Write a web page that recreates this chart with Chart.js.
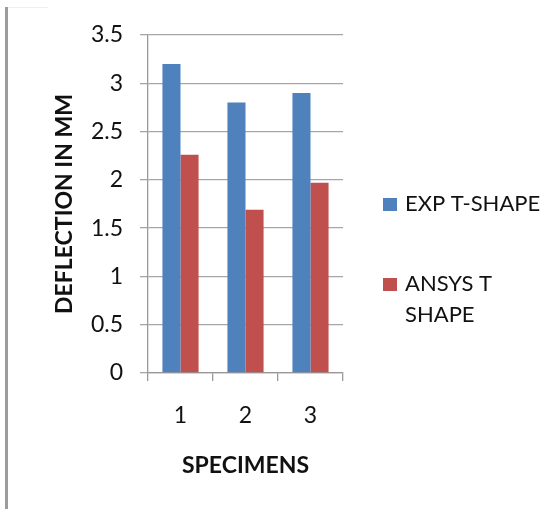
<!DOCTYPE html>
<html>
<head>
<meta charset="utf-8">
<script src="https://cdn.jsdelivr.net/npm/chart.js@4/dist/chart.umd.min.js"></script>
<style>
  html, body { margin: 0; padding: 0; background: #fff; }
  #wrap { position: relative; width: 559px; height: 509px; }
  #edge { position: absolute; left: 5px; top: 7px; width: 3px; height: 502px; background: #9c9c9c; }
  #topline { position: absolute; left: 8px; top: 7px; width: 40px; height: 1px; background: #eee; }
  canvas { position: absolute; left: 0; top: 0; }
</style>
</head>
<body>
<div id="wrap">
  <div id="edge"></div>
  <div id="topline"></div>
  <canvas id="barChart" width="559" height="509"></canvas>
</div>
<script>
var SPECIMENS = ["1", "2", "3"];
var SERIES = ["EXP T-SHAPE", "ANSYS T SHAPE"];
var EXP_T = [3.2, 2.8, 2.9];
var ANSYS_T = [2.26, 1.69, 1.97];
var COLORS = ["#4F81BD", "#C0504D"];

var FONT = "Lato, 'Open Sans', sans-serif";

// legend drawn by hand so the second label can wrap like in the original
var sideLegend = {
    id: 'sideLegend',
    afterDraw: function (chart) {
        var ctx = chart.ctx;
        var opts = chart.options.plugins.sideLegend;
        var y = opts.top;
        ctx.save();
        ctx.font = opts.size + "px " + FONT;
        ctx.textBaseline = "middle";
        ctx.textAlign = "left";
        chart.data.datasets.forEach(function (ds, i) {
            // word wrap
            var words = ds.label.split(" ");
            var lines = [], cur = "";
            words.forEach(function (w) {
                var t = cur ? cur + " " + w : w;
                if (ctx.measureText(t).width > opts.maxWidth && cur) {
                    lines.push(cur);
                    cur = w;
                } else {
                    cur = t;
                }
            });
            lines.push(cur);
            ctx.fillStyle = ds.backgroundColor;
            ctx.fillRect(opts.left, y - 6, 14, 13);
            ctx.fillStyle = "#111";
            lines.forEach(function (l, j) {
                ctx.fillText(l, opts.left + 22, y + j * opts.lineHeight);
            });
            y += opts.gap;
        });
        ctx.restore();
    }
};

var ctx = document.getElementById("barChart").getContext("2d");
var barChart = new Chart(ctx, {
    type: 'bar',
    data: {
        labels: SPECIMENS,
        datasets: [
            {
                label: SERIES[0],
                data: EXP_T,
                backgroundColor: COLORS[0]
            },
            {
                label: SERIES[1],
                data: ANSYS_T,
                backgroundColor: COLORS[1]
            }
        ]
    },
    options: {
        responsive: false,
        animation: false,
        layout: {
            padding: { left: 0, right: 216, top: 35, bottom: 0 }
        },
        datasets: {
            bar: { categoryPercentage: 0.556, barPercentage: 1.0 }
        },
        plugins: {
            legend: { display: false },
            tooltip: { enabled: false },
            sideLegend: { left: 383, top: 204, size: 22, maxWidth: 150, lineHeight: 31, gap: 80 }
        },
        scales: {
            x: {
                afterFit: function (scale) { scale.height = 136; },
                grid: {
                    offset: true,
                    drawOnChartArea: false,
                    drawTicks: true,
                    tickLength: 8,
                    color: "#999",
                    lineWidth: 1.3
                },
                border: { display: true, color: "#999", width: 1.3 },
                ticks: {
                    font: { family: FONT, size: 23 },
                    color: "#111",
                    padding: 21
                },
                title: {
                    display: true,
                    text: "SPECIMENS",
                    font: { family: FONT, size: 23, weight: 'bold' },
                    color: "#111",
                    padding: { top: 0, bottom: 30 }
                }
            },
            y: {
                min: 0,
                max: 3.5,
                afterFit: function (scale) { scale.width = 148; },
                grid: {
                    color: "#a6a6a6",
                    lineWidth: 1.3,
                    tickLength: 8
                },
                border: { display: true, color: "#999", width: 1.3 },
                ticks: {
                    stepSize: 0.5,
                    font: { family: FONT, size: 23 },
                    color: "#111",
                    padding: 17,
                    callback: function (v) { return String(v); }
                },
                title: {
                    display: true,
                    text: "DEFLECTION IN MM",
                    font: { family: FONT, size: 23, weight: 'bold' },
                    color: "#111",
                    padding: { top: 51, bottom: 0 }
                }
            }
        }
    },
    plugins: [sideLegend]
});
</script>
</body>
</html>
